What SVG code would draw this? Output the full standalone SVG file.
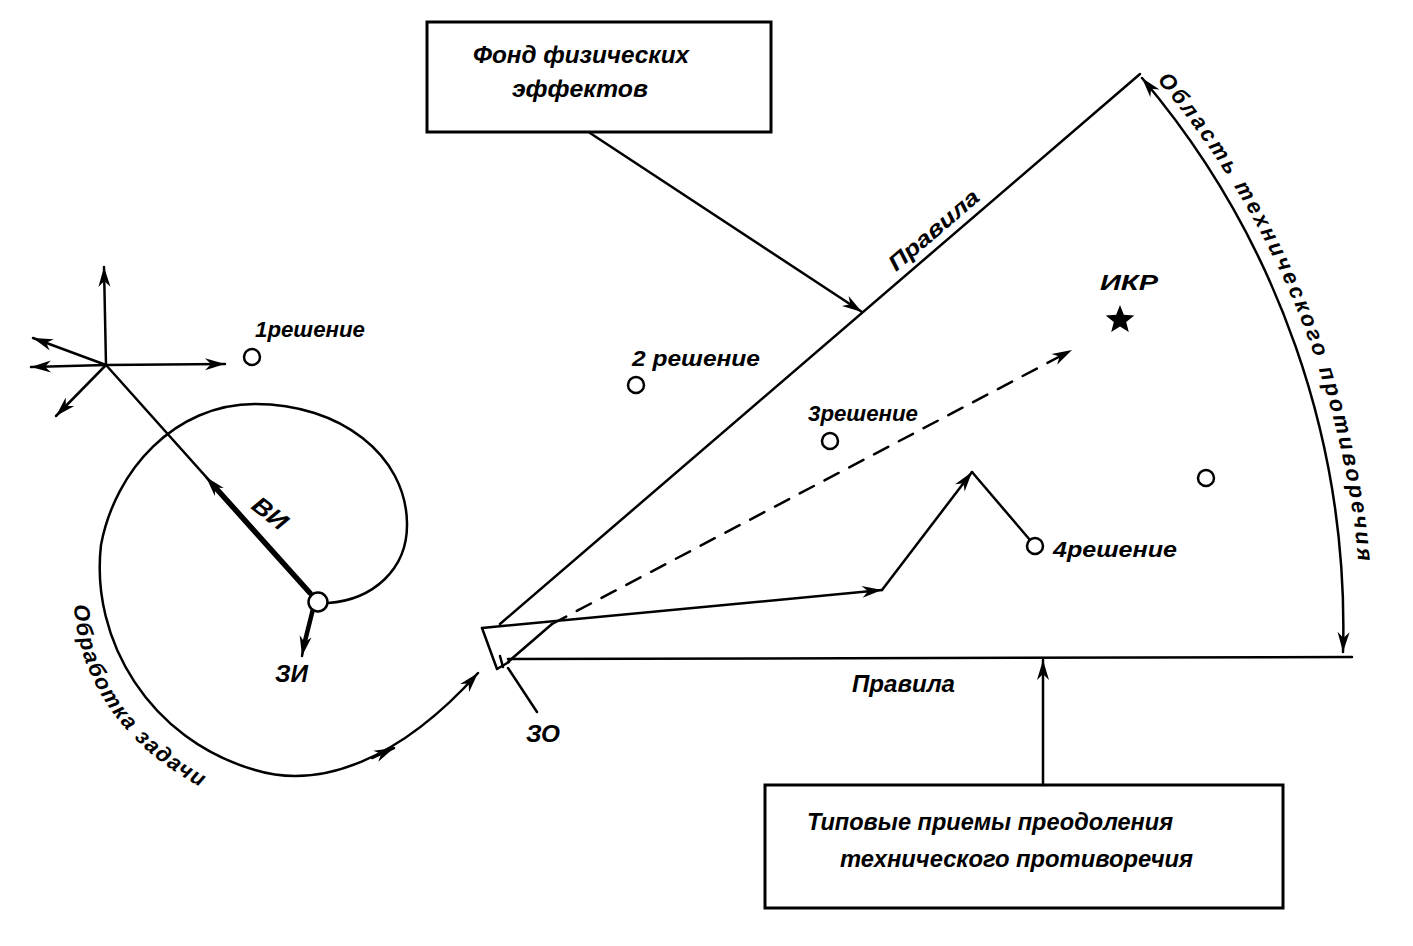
<svg xmlns="http://www.w3.org/2000/svg" width="1413" height="946" viewBox="0 0 1413 946">
<style>
  .ln{fill:none;stroke:#000;stroke-width:2.5;stroke-linecap:round;stroke-linejoin:round}
  .box{fill:#fff;stroke:#000;stroke-width:3}
  .pt{fill:#fff;stroke:#000;stroke-width:2.5}
  .t{font-family:"Liberation Sans","DejaVu Sans",sans-serif;font-style:italic;font-weight:bold;font-size:22px;fill:#000}
  .tb{font-family:"Liberation Sans","DejaVu Sans",sans-serif;font-style:italic;font-weight:bold;font-size:24px;fill:#000}
</style>
<defs>
  <marker id="ah" markerUnits="userSpaceOnUse" markerWidth="24" markerHeight="14" viewBox="-22 -7 24 14" refX="0" refY="0" orient="auto-start-reverse">
    <path d="M0,0 L-20,-6 L-14,0 L-20,6 Z" fill="#000"/>
  </marker>
  <path id="arcText" d="M1146.5,67.9 A862,862 0 0 1 1361.5,620"/>
  <path id="loopText" d="M74,605 C78,682 128,754 215,794"/>
</defs>
<rect width="1413" height="946" fill="#fff"/>

<g id="box-fond">
  <rect class="box" x="427" y="22" width="344" height="110"/>
  <text class="tb" x="473" y="63" textLength="216" lengthAdjust="spacingAndGlyphs">Фонд физических</text>
  <text class="tb" x="512" y="97" textLength="136" lengthAdjust="spacingAndGlyphs">эффектов</text>
</g>

<g id="box-priemy">
  <rect class="box" x="765" y="785" width="518" height="123"/>
  <text class="tb" x="807" y="830" textLength="366" lengthAdjust="spacingAndGlyphs">Типовые приемы преодоления</text>
  <text class="tb" x="840" y="867" textLength="353" lengthAdjust="spacingAndGlyphs">технического противоречия</text>
</g>

<g id="sector">
  <line class="ln" x1="500" y1="624" x2="1140" y2="74"/>
  <line class="ln" x1="508" y1="659" x2="1352" y2="657"/>
  <path class="ln" d="M482,628 L497,669 L509,662"/>
  <path class="ln" d="M500,656 L503,667"/>
  <text class="t" transform="translate(896,272) rotate(-40.5)" textLength="112" lengthAdjust="spacingAndGlyphs">Правила</text>
  <text class="tb" x="852" y="692" textLength="103" lengthAdjust="spacingAndGlyphs">Правила</text>
</g>

<g id="zo">
  <line class="ln" x1="508" y1="668" x2="537" y2="712"/>
  <text class="tb" x="526" y="742" textLength="34" lengthAdjust="spacingAndGlyphs">ЗО</text>
</g>

<g id="oblast">
  <path class="ln" d="M1142,78 A850,850 0 0 1 1343,652" marker-start="url(#ah)" marker-end="url(#ah)"/>
  <text class="t"><textPath href="#arcText" startOffset="16" textLength="530" lengthAdjust="spacing">Область технического противоречия</textPath></text>
</g>

<g id="cross">
  <line class="ln" x1="106" y1="365" x2="104" y2="267" marker-end="url(#ah)"/>
  <line class="ln" x1="106" y1="365" x2="225" y2="364" marker-end="url(#ah)"/>
  <line class="ln" x1="106" y1="365" x2="31" y2="367" marker-end="url(#ah)"/>
  <line class="ln" x1="106" y1="365" x2="33" y2="338" marker-end="url(#ah)"/>
  <line class="ln" x1="106" y1="365" x2="56" y2="416" marker-end="url(#ah)"/>
</g>

<g id="vi">
  <line class="ln" x1="106" y1="365" x2="318" y2="602"/>
  <line x1="310" y1="593" x2="214" y2="486" stroke="#000" stroke-width="5.5" stroke-linecap="round"/>
  <line class="ln" x1="214" y1="486" x2="206" y2="477" marker-end="url(#ah)"/>
  <text class="tb" transform="translate(250,508) rotate(38)" textLength="38" lengthAdjust="spacingAndGlyphs">ВИ</text>
</g>

<g id="zi">
  <line x1="313" y1="609" x2="304" y2="645" stroke="#000" stroke-width="4.5" stroke-linecap="round"/>
  <line class="ln" x1="304" y1="645" x2="302" y2="656" marker-end="url(#ah)"/>
  <text class="tb" x="275" y="682" textLength="33" lengthAdjust="spacingAndGlyphs">ЗИ</text>
</g>

<g id="loop">
  <path class="ln" d="M328,603 C372,600 408,570 407,523 C406,455 340,404 255,404 C175,404 115,470 101,545 C90,640 150,740 255,770 C320,790 400,760 478,673" marker-end="url(#ah)"/>
  <path class="ln" d="M372,758 L394,748" marker-end="url(#ah)"/>
  <text class="t"><textPath href="#loopText" textLength="232" lengthAdjust="spacing">Обработка задачи</textPath></text>
</g>

<g id="connectors">
  <line class="ln" x1="590" y1="133" x2="862" y2="312" marker-end="url(#ah)"/>
  <line class="ln" x1="1043" y1="785" x2="1043" y2="660" marker-end="url(#ah)"/>
  <path class="ln" d="M508,662 L552,624"/>
  <path class="ln" d="M552,624 L1072,350" stroke-dasharray="16 12" marker-end="url(#ah)"/>
  <path class="ln" d="M482,628 L882,590" marker-end="url(#ah)"/>
  <path class="ln" d="M882,590 L972,472" marker-end="url(#ah)"/>
  <path class="ln" d="M972,472 L1030,540"/>
</g>

<g id="sol1">
  <circle class="pt" cx="252" cy="357" r="8"/>
  <text class="t" x="255" y="337" textLength="110" lengthAdjust="spacingAndGlyphs">1решение</text>
</g>
<g id="sol2">
  <circle class="pt" cx="636" cy="385" r="8"/>
  <text class="t" x="632" y="366" textLength="128" lengthAdjust="spacingAndGlyphs">2 решение</text>
</g>
<g id="sol3">
  <circle class="pt" cx="830" cy="441" r="8"/>
  <text class="t" x="808" y="421" textLength="110" lengthAdjust="spacingAndGlyphs">3решение</text>
</g>
<g id="sol4">
  <circle class="pt" cx="1035" cy="546" r="8"/>
  <text class="t" x="1053" y="557" textLength="124" lengthAdjust="spacingAndGlyphs">4решение</text>
</g>
<g id="sol5">
  <circle class="pt" cx="1206" cy="478" r="8"/>
</g>
<g id="ikr">
  <polygon points="1120,305 1123.8,314.7 1134.3,315.4 1126.2,322 1128.8,332.1 1120,326.5 1111.2,332.1 1113.8,322 1105.7,315.4 1116.2,314.7" fill="#000"/>
  <text class="t" x="1100" y="290" textLength="58" lengthAdjust="spacingAndGlyphs">ИКР</text>
</g>

<g id="hub">
  <circle class="pt" cx="318" cy="602" r="9.5"/>
</g>
</svg>
